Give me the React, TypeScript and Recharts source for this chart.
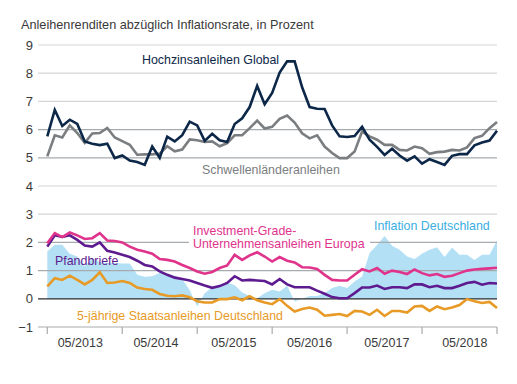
import React from 'react';
import { ComposedChart, Line, Area, XAxis, YAxis, ReferenceLine } from 'recharts';

const hochzins = [5.76,6.70,6.13,6.35,6.2,5.58,5.5,5.45,5.5,4.99,5.08,4.9,4.85,4.75,5.4,5.0,5.75,5.58,5.8,6.28,6.15,5.6,5.85,5.62,5.56,6.2,6.4,6.8,7.55,6.9,7.3,8.02,8.42,8.42,7.5,6.8,6.74,6.73,6.15,5.76,5.74,5.77,6.1,5.64,5.39,5.1,5.32,5.08,4.9,5.05,4.79,4.95,4.85,4.75,5.07,5.13,5.13,5.44,5.54,5.61,5.96];
const schwellen = [5.05,5.8,5.72,6.15,5.88,5.53,5.86,5.88,6.06,5.72,5.59,5.46,5.11,5.12,5.12,5.15,5.41,5.23,5.29,5.65,5.62,5.56,5.58,5.41,5.52,5.8,5.8,6.05,6.32,6.04,6.1,6.38,6.5,6.25,5.87,5.69,5.8,5.4,5.17,4.99,4.99,5.22,5.93,5.76,5.64,5.46,5.46,5.28,5.26,5.4,5.34,5.14,5.2,5.22,5.28,5.26,5.37,5.7,5.78,6.05,6.27];
const investmentGrade = [1.97,2.33,2.19,2.35,2.25,2.12,2.15,2.33,2.07,2.05,2.0,1.85,1.74,1.68,1.6,1.41,1.38,1.32,1.2,1.09,0.97,0.89,0.95,1.09,1.18,1.56,1.38,1.54,1.65,1.5,1.32,1.48,1.35,1.29,1.12,1.11,1.06,0.85,0.67,0.65,0.65,0.85,1.05,0.97,1.09,0.89,1.0,0.95,0.88,1.04,0.91,0.83,0.88,0.78,0.82,0.91,1.0,1.04,1.06,1.08,1.1];
const pfandbriefe = [1.85,2.25,2.19,2.25,2.09,1.89,1.85,2.0,1.7,1.64,1.56,1.48,1.35,1.2,1.15,0.97,0.85,0.75,0.7,0.65,0.56,0.47,0.39,0.45,0.56,0.8,0.65,0.67,0.65,0.63,0.51,0.7,0.51,0.41,0.41,0.41,0.29,0.18,0.06,0.02,0.02,0.2,0.4,0.4,0.47,0.35,0.41,0.41,0.38,0.51,0.51,0.41,0.46,0.38,0.38,0.46,0.56,0.6,0.5,0.56,0.54];
const bund5 = [0.44,0.73,0.67,0.82,0.67,0.51,0.67,0.94,0.56,0.58,0.63,0.56,0.4,0.35,0.32,0.17,0.11,0.09,0.12,0.06,-0.09,-0.13,-0.13,-0.01,-0.01,0.05,-0.05,0.09,-0.05,-0.13,-0.19,-0.01,-0.25,-0.45,-0.36,-0.31,-0.39,-0.6,-0.57,-0.54,-0.61,-0.43,-0.45,-0.57,-0.39,-0.61,-0.43,-0.43,-0.49,-0.27,-0.25,-0.43,-0.27,-0.37,-0.31,-0.22,-0.01,-0.09,-0.15,-0.11,-0.33];
const inflation = [1.68,1.92,1.92,1.6,1.5,1.15,1.45,1.3,1.27,1.27,1.25,1.25,0.85,0.78,0.8,0.92,0.9,0.82,0.7,0.3,-0.27,0.2,0.4,0.5,0.58,0.48,0.22,0.1,0.02,0.2,0.32,0.26,0.46,-0.1,0.0,0.1,0.1,0.2,0.38,0.46,0.38,0.61,0.79,1.62,1.91,2.23,1.88,1.74,1.5,1.41,1.6,1.74,1.83,1.48,1.82,1.56,1.56,1.38,1.56,1.56,2.07];

const xLabelPositions = [4.4, 14.5, 24.9, 35, 45.3, 55.7];
const xLabels = ['05/2013', '05/2014', '05/2015', '05/2016', '05/2017', '05/2018'];
const yearMarks = [0, 10, 20, 30, 40, 50, 60];
const yTicks = [-1, 0, 1, 2, 3, 4, 5, 6, 7, 8, 9];

const data = hochzins.map((v, i) => ({
  i,
  hy: v,
  em: schwellen[i],
  ig: investmentGrade[i],
  pf: pfandbriefe[i],
  bund: bund5[i],
  infl: inflation[i],
}));

const FONT = '"Liberation Sans", Arial, Helvetica, sans-serif';
const TXT = '#3a3a3a';
const NAVY = '#0c2748';
const GRAY = '#7b7e81';
const PINK = '#e0338c';
const PURPLE = '#5e1b8f';
const ORANGE = '#e89a26';
const BLUE_FILL = '#b3e0f5';
const BLUE_TXT = '#3aaee2';

const gridColor = (v: number) => (v === 1 || v === 2 || v === 5 || v === 6 || v === -1 ? '#a7abae' : '#d3d5d7');

const YTick = (props: any) => {
  const v = props.payload.value;
  const s = v < 0 ? '\u2212' + Math.abs(v) : String(v);
  return (
    <text x={33} y={props.y} dy="0.35em" textAnchor="end" fontSize={13} fill={TXT} fontFamily={FONT}>
      {s}
    </text>
  );
};

const XTick = (props: any) => {
  const idx = xLabelPositions.indexOf(props.payload.value);
  return (
    <text x={props.x} y={342.5} dy="0.35em" textAnchor="middle" fontSize={12.5} fill={TXT} fontFamily={FONT}>
      {xLabels[idx]}
    </text>
  );
};

export default function App() {
  return (
    <div style={{ position: 'absolute', left: 0, top: 0, width: 517, height: 384, fontFamily: FONT, background: '#fff' }}>
      <ComposedChart width={517} height={384} data={data} margin={{ top: 45, right: 20, bottom: 27, left: 0 }}>
        <XAxis
          dataKey="i"
          type="number"
          domain={[-1.24, 60]}
          ticks={xLabelPositions}
          tick={XTick}
          axisLine={false}
          tickLine={false}
          height={30}
          interval={0}
        />
        <YAxis
          type="number"
          domain={[-1, 9]}
          ticks={yTicks}
          tick={YTick}
          axisLine={false}
          tickLine={false}
          width={38}
          interval={0}
        />
        <Area
          dataKey="infl"
          type="linear"
          stroke="none"
          fill={BLUE_FILL}
          fillOpacity={1}
          baseValue={0}
          isAnimationActive={false}
          dot={false}
          activeDot={false}
        />
        {yTicks.filter((v) => v !== 0).map((v) => (
          <ReferenceLine key={'g' + v} y={v} stroke={gridColor(v)} strokeWidth={1.2} ifOverflow="visible" />
        ))}
        <ReferenceLine y={0} stroke="#2b2b2b" strokeWidth={1.2} />
        {yearMarks.map((m) => (
          <ReferenceLine
            key={'m' + m}
            segment={[{ x: m, y: -1 }, { x: m, y: -1.25 }]}
            stroke="#a7abae"
            strokeWidth={1.2}
            ifOverflow="visible"
          />
        ))}
        <Line dataKey="em" type="linear" stroke={GRAY} strokeWidth={2.6} dot={false} activeDot={false} isAnimationActive={false} />
        <Line dataKey="hy" type="linear" stroke={NAVY} strokeWidth={2.6} dot={false} activeDot={false} isAnimationActive={false} />
        <Line dataKey="bund" type="linear" stroke={ORANGE} strokeWidth={2.6} dot={false} activeDot={false} isAnimationActive={false} />
        <Line dataKey="pf" type="linear" stroke={PURPLE} strokeWidth={2.6} dot={false} activeDot={false} isAnimationActive={false} />
        <Line dataKey="ig" type="linear" stroke={PINK} strokeWidth={2.6} dot={false} activeDot={false} isAnimationActive={false} />
      </ComposedChart>
      <svg width={517} height={384} style={{ position: 'absolute', left: 0, top: 0, pointerEvents: 'none' }}>
        <g fontFamily={FONT} fontSize={12.4}>
          <text x={21} y={25} dy="0.35em" fill={TXT} fontSize={12.7}>Anleihenrenditen abzüglich Inflationsrate, in Prozent</text>
          <text x={142} y={60} dy="0.35em" fill={NAVY}>Hochzinsanleihen Global</text>
          <text x={202} y={170} dy="0.35em" fill={GRAY}>Schwellenländeranleihen</text>
          <rect x={189} y={236} width={181} height={13} fill="#fff" />
          <text x={193} y={231} dy="0.35em" fill={PINK}>Investment-Grade-</text>
          <text x={193} y={244} dy="0.35em" fill={PINK}>Unternehmensanleihen Europa</text>
          <text x={374} y={226} dy="0.35em" fill={BLUE_TXT}>Inflation Deutschland</text>
          <text x={55} y={260.5} dy="0.35em" fill={PURPLE}>Pfandbriefe</text>
          <text x={77} y={316} dy="0.35em" fill={ORANGE}>5-jährige Staatsanleihen Deutschland</text>
        </g>
      </svg>
    </div>
  );
}
